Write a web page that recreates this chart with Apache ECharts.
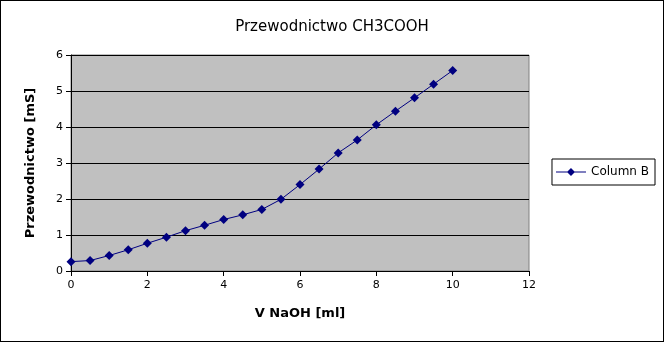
<!DOCTYPE html>
<html><head><meta charset="utf-8">
<script src="https://cdn.jsdelivr.net/npm/echarts@6/dist/echarts.min.js"></script>
<style>html,body{margin:0;padding:0;background:#fff}#c{width:664px;height:342px;box-sizing:border-box;}</style>
</head><body><div id="c"></div>
<script>
const xValues = [0,0.5,1,1.5,2,2.5,3,3.5,4,4.5,5,5.5,6,6.5,7,7.5,8,8.5,9,9.5,10];
const yValues = [0.26,0.29,0.43,0.59,0.77,0.94,1.12,1.27,1.43,1.56,1.71,1.99,2.40,2.83,3.28,3.64,4.06,4.44,4.81,5.19,5.57];
const seriesName = 'Column B';
const titleText = 'Przewodnictwo CH3COOH';
const xName = 'V NaOH [ml]';
const yName = 'Przewodnictwo [mS]';
const ff = 'DejaVu Sans';
const chart = echarts.init(document.getElementById('c'), null, {renderer:'canvas'});
chart.setOption({
  animation:false,
  backgroundColor:'#fff',
  title:{text:titleText,left:'center',top:15,textStyle:{fontFamily:ff,fontSize:15,fontWeight:'normal',color:'#000'}},
  legend:{right:9,top:159,orient:'vertical',itemWidth:30,itemHeight:8,itemGap:0,padding:[7,6,7,4],
    borderColor:'#000',borderWidth:1,backgroundColor:'#fff',
    textStyle:{fontFamily:ff,fontSize:12,color:'#000'},
    data:[{name:seriesName,icon:'path://M0,3.6H30V4.4H0Z M15,0 L19,4 L15,8 L11,4 Z'}]},
  grid:{left:71,top:55,right:135,bottom:71,show:true,backgroundColor:'#c0c0c0',borderColor:'#808080',borderWidth:1},
  xAxis:{type:'value',min:0,max:12,interval:2,name:xName,nameLocation:'middle',nameGap:36,
    nameTextStyle:{fontFamily:ff,fontSize:13,fontWeight:'bold',color:'#000'},
    axisLine:{lineStyle:{color:'#000'}},axisTick:{show:true,length:5,lineStyle:{color:'#000'}},
    axisLabel:{fontFamily:ff,fontSize:11,color:'#000',margin:9},splitLine:{show:false}},
  yAxis:{type:'value',min:0,max:6,interval:1,name:yName,nameLocation:'middle',nameGap:34,
    nameTextStyle:{fontFamily:ff,fontSize:13,fontWeight:'bold',color:'#000'},
    axisLine:{show:true,lineStyle:{color:'#000'}},axisTick:{show:true,length:5,lineStyle:{color:'#000'}},
    axisLabel:{fontFamily:ff,fontSize:11,color:'#000',margin:8},
    splitLine:{show:true,lineStyle:{color:'#000',width:1}}},
  series:[{name:seriesName,type:'line',data:xValues.map((x,i)=>[x,yValues[i]]),
    symbol:'diamond',symbolSize:9,lineStyle:{color:'#000080',width:1},itemStyle:{color:'#000080'}}]
});
</script>
<div style="position:absolute;left:0;top:0;width:664px;height:342px;border:1px solid #000;box-sizing:border-box;pointer-events:none"></div>
</body></html>
